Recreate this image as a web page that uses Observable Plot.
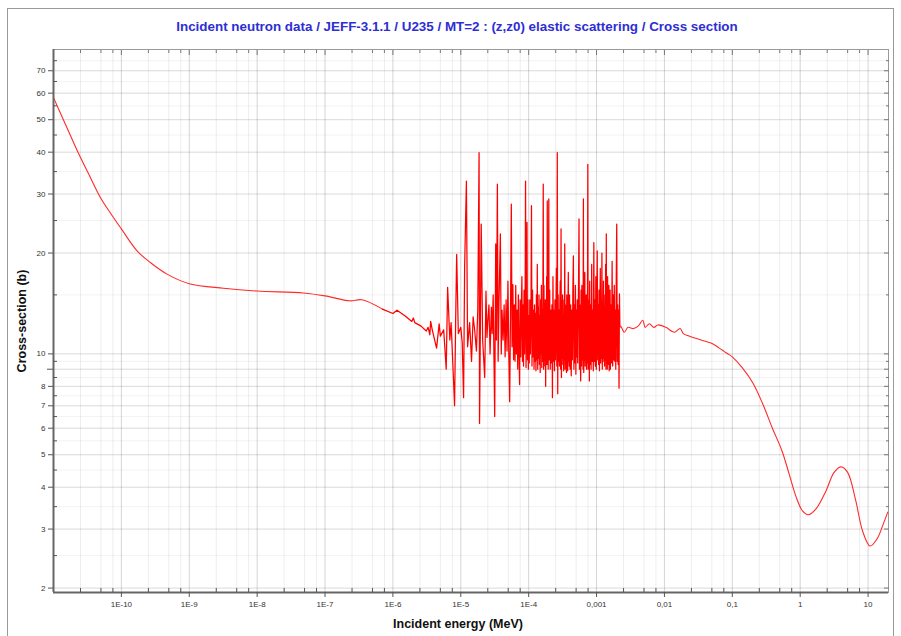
<!DOCTYPE html>
<html><head><meta charset="utf-8">
<script src="https://cdn.jsdelivr.net/npm/d3@7"></script>
<script src="https://cdn.jsdelivr.net/npm/@observablehq/plot@0.6"></script>
<style>
body{margin:0;background:#fff;font-family:"Liberation Sans",Arial,sans-serif;}
#wrap{position:relative;width:901px;height:636px;overflow:hidden;background:#fff;}
#border{position:absolute;left:7px;top:8px;width:887px;height:660px;border:1px solid #9a9a9a;box-sizing:border-box;}
#chart{position:absolute;left:0;top:0;}
#title{position:absolute;left:0;width:914px;top:19px;text-align:center;color:#2e2ed4;font-weight:bold;font-size:13.4px;white-space:nowrap;}
#xlab{position:absolute;left:0;width:916px;top:617px;text-align:center;color:#111;font-weight:bold;font-size:12.5px;white-space:nowrap;}
#ylab{position:absolute;left:22px;top:321px;transform:translate(-50%,-50%) rotate(-90deg);color:#111;font-weight:bold;font-size:12.5px;white-space:nowrap;}
</style></head>
<body>
<div id="wrap">
  <div id="border"></div>
  <div id="chart"></div>
  <div id="title">Incident neutron data / JEFF-3.1.1 / U235 / MT=2 : (z,z0) elastic scattering / Cross section</div>
  <div id="xlab">Incident energy (MeV)</div>
  <div id="ylab">Cross-section (b)</div>
</div>
<script>
// ---- data (energies in MeV unless noted, cross sections in barns) ----
const lowEnergy = [1e-11, 1.58e-11, 2.24e-11, 3.3e-11, 4.9e-11, 7e-11, 1e-10, 1.7e-10, 2.7e-10, 4.7e-10, 1e-9, 3.2e-9, 1e-8, 4.8e-8, 1e-7, 2.3e-7, 3.5e-7, 7e-7];
const lowXS     = [58.2, 47.3, 40.4, 34.4, 29.3, 26.2, 23.6, 20.3, 18.7, 17.3, 16.2, 15.7, 15.4, 15.2, 14.9, 14.4, 14.5, 13.6];

// resolved resonance region, energies in eV
const resEnergyEV = [
  // 0.7 - 40 eV
  0.7, 1.0, 1.15, 1.5, 1.9, 2.0, 2.1, 2.6, 3.1, 3.3, 3.5, 3.6, 3.8, 4.4, 4.8, 5.0, 5.6, 6.1, 6.4, 6.9, 7.2,
  8.1, 8.4, 8.7, 9.2, 10.0, 10.5, 11.0, 11.4, 12.1, 12.6, 13.5, 14.4, 15.2, 16.0, 17.0, 17.8, 18.6, 18.9, 19.5, 20.0,
  21.0, 22.5, 23.5, 24.3, 25.0, 26.0, 27.0, 28.2, 29.0, 30.0, 31.6, 32.7, 33.5, 34.6, 35.5, 36.5, 38.3, 39.5,
  // 40 - 100 eV
  40.5, 42, 43.5, 45, 46.5, 48, 49.5, 51, 52.5, 54, 55.5, 57, 58.5, 60, 61.5, 63, 64.5, 66, 67.5, 69,
  70.5, 72, 73.5, 75, 76.5, 78, 79.5, 81, 82.5, 84, 85.5, 87, 88.5, 90, 91.5, 93, 94.5, 96, 97.5, 99,
  // 100 - 200 eV
  100, 102, 104, 106, 108, 110, 112, 114, 116, 118, 120, 122, 124, 126, 128, 130, 132, 134, 136, 138,
  140, 142, 144, 146, 148, 150, 152, 154, 156, 158, 160, 162, 164, 166, 168, 170, 172, 174, 176, 178,
  180, 182, 184, 186, 188, 190, 192, 194, 196, 198,
  // 200 - 400 eV
  200, 204, 208, 212, 216, 220, 224, 228, 232, 236, 240, 244, 248, 252, 256, 260, 264, 268, 272, 276,
  280, 284, 288, 292, 296, 300, 304, 308, 312, 316, 320, 324, 328, 332, 336, 340, 344, 348, 352, 356,
  360, 364, 368, 372, 376, 380, 384, 388, 392, 396,
  // 400 - 800 eV
  400, 408, 416, 424, 432, 440, 448, 456, 464, 472, 480, 488, 496, 504, 512, 520, 528, 536, 544, 552,
  560, 568, 576, 584, 592, 600, 608, 616, 624, 632, 640, 648, 656, 664, 672, 680, 688, 696, 704, 712,
  720, 728, 736, 744, 752, 760, 768, 776, 784, 792,
  // 800 - 1600 eV
  800, 816, 832, 848, 864, 880, 896, 912, 928, 944, 960, 976, 992, 1008, 1024, 1040, 1056, 1072, 1088, 1104,
  1120, 1136, 1152, 1168, 1184, 1200, 1216, 1232, 1248, 1264, 1280, 1296, 1312, 1328, 1344, 1360, 1376, 1392, 1408, 1424,
  1440, 1456, 1472, 1488, 1504, 1520, 1536, 1552, 1568, 1584,
  // 1600 - 2208 eV
  1600, 1632, 1664, 1696, 1728, 1760, 1792, 1824, 1856, 1888, 1920, 1952, 1984, 2016, 2048, 2080, 2112, 2144, 2176, 2208
];
const resXS = [
  13.6, 13.2, 13.5, 13.0, 12.5, 12.8, 12.4, 12.1, 11.7, 12.0, 11.4, 12.5, 11.8, 10.4, 12.3, 11.3, 11.8, 9.0, 15.8, 11.0, 12.4,
  7.0, 12.5, 19.8, 11.5, 12.0, 10.8, 7.4, 18.3, 32.8, 10.5, 12.4, 9.5, 12.9, 11.8, 10.2, 13.5, 39.9, 6.2, 13.0, 24.4,
  11.0, 8.5, 15.4, 11.2, 12.5, 14.0, 10.0, 13.8, 11.5, 15.0, 6.5, 21.3, 11.0, 32.1, 9.5, 14.0, 22.8, 10.0,
  13.5, 11.0, 14.0, 9.8, 14.5, 10.2, 16.5, 10.0, 7.2, 13.0, 28.0, 10.5, 16.1, 9.6, 14.0, 9.5, 16.0, 10.0, 13.5, 9.0,
  15.0, 10.2, 8.1, 14.5, 9.8, 13.5, 17.0, 9.5, 14.0, 9.2, 15.5, 10.0, 13.0, 32.8, 9.1, 14.0, 24.7, 9.6, 14.5, 9.0,
  13.0, 9.4, 14.5, 10.0, 13.0, 27.7, 9.2, 15.5, 9.8, 13.5, 9.0, 14.0, 9.5, 13.2, 8.9, 15.0, 9.6, 18.5, 9.0, 13.8,
  9.7, 15.0, 9.3, 13.0, 8.8, 14.5, 10.0, 16.0, 9.1, 13.5, 9.5, 14.5, 32.1, 9.0, 16.0, 9.6, 13.0, 9.2, 14.5, 8.0,
  13.5, 9.8, 17.0, 9.3, 28.6, 9.5, 14.0, 9.0, 15.0, 29.0,
  9.6, 15.5, 9.0, 13.5, 9.4, 14.0, 7.4, 17.0, 9.5, 13.5, 8.9, 14.5, 9.6, 13.0, 18.0, 9.2, 39.9, 7.6, 15.0, 9.5,
  13.5, 9.2, 14.0, 16.5, 9.0, 23.6, 8.5, 14.5, 9.7, 15.0, 9.3, 13.0, 8.9, 14.5, 9.6, 21.3, 9.0, 14.0, 9.5, 13.5,
  8.8, 15.0, 9.4, 13.5, 8.9, 14.5, 17.5, 9.5, 13.0, 9.2,
  15.0, 9.0, 14.0, 8.6, 13.5, 9.6, 15.5, 19.6, 9.0, 14.0, 9.4, 16.0, 8.7, 13.5, 9.8, 14.5, 9.4, 13.0, 17.0, 25.3,
  9.0, 14.0, 9.5, 8.3, 15.5, 9.2, 16.0, 9.6, 13.5, 9.0, 29.0, 8.8, 14.5, 9.5, 17.5, 9.2, 13.5, 9.7, 15.0, 9.0,
  14.0, 9.4, 16.0, 36.8, 9.0, 14.5, 9.6, 13.5, 8.3, 16.5,
  9.3, 14.0, 9.0, 18.5, 9.5, 13.5, 8.9, 21.5, 9.5, 14.5, 9.2, 17.0, 9.0, 13.5, 20.3, 9.6, 14.0, 9.3, 15.5, 8.9,
  13.5, 18.0, 9.4, 14.5, 9.7, 20.0, 9.0, 14.0, 9.5, 16.5, 9.7, 13.5, 9.2, 15.0, 9.6, 18.5, 9.0, 22.8, 9.4, 14.0,
  9.0, 17.0, 9.5, 13.5, 9.3, 16.0, 8.9, 14.5, 9.6, 15.5,
  9.0, 14.0, 9.4, 18.9, 9.2, 15.0, 9.6, 16.0, 9.5, 13.5, 9.0, 17.0, 24.4, 9.5, 14.0, 9.3, 13.5, 7.9, 15.1, 12.0
];

const highEnergy = [2.208e-3, 2.27e-3, 2.57e-3, 2.9e-3, 3.5e-3, 4.1e-3, 4.8e-3, 5.2e-3, 6.0e-3, 7.0e-3, 8.0e-3, 1.05e-2, 1.4e-2, 1.7e-2, 1.9e-2, 2.3e-2, 3.2e-2, 4.0e-2, 5.2e-2, 6.0e-2, 7.2e-2, 8.0e-2, 9.0e-2, 0.1, 0.14, 0.2, 0.28, 0.39, 0.54, 0.69, 0.86, 1.08, 1.32, 1.7, 2.4, 3.16, 4.0, 5.0, 6.6, 8.3, 10.7, 13.5, 17.0, 19.5];
const highXS     = [12.0, 12.1, 11.6, 12.0, 11.9, 12.1, 12.6, 12.0, 12.3, 12.0, 12.2, 12.0, 11.6, 11.9, 11.5, 11.3, 11.06, 10.9, 10.7, 10.5, 10.25, 10.1, 9.95, 9.8, 9.1, 8.2, 7.1, 6.0, 5.13, 4.37, 3.77, 3.40, 3.31, 3.44, 3.90, 4.43, 4.60, 4.43, 3.64, 2.96, 2.67, 2.80, 3.13, 3.37];

// ticks
const xDomain = [1e-11, 20];
const yDomain = [1.94, 81];
const xTickValues = [1e-10, 1e-9, 1e-8, 1e-7, 1e-6, 1e-5, 1e-4, 1e-3, 1e-2, 1e-1, 1, 10];
const xTickLabels = ["1E-10", "1E-9", "1E-8", "1E-7", "1E-6", "1E-5", "1E-4", "0,001", "0,01", "0,1", "1", "10"];
const xMinorMultipliers = [2.5, 5, 7.5];
const yTickValues = [2, 3, 4, 5, 6, 7, 8, 10, 20, 30, 40, 50, 60, 70];
const yUnlabeled = [9];
const yMinorValues = [2.5, 3.5, 4.5, 5.5, 6.5, 7.5, 8.5, 9.5, 15, 25, 35, 45, 55, 65, 75];

// ---- build tables ----
const lowData = lowEnergy.map((e, i) => ({E: e, S: lowXS[i]}));
const resData = resEnergyEV.map((e, i) => ({E: e * 1e-6, S: resXS[i]}));
const highData = highEnergy.map((e, i) => ({E: e, S: highXS[i]}));
const decades = [1e-11, 1e-10, 1e-9, 1e-8, 1e-7, 1e-6, 1e-5, 1e-4, 1e-3, 1e-2, 1e-1, 1, 10];
const xMinor = decades.flatMap(d => xMinorMultipliers.map(m => d * m)).filter(v => v < xDomain[1]);
const fmtX = d => xTickLabels[xTickValues.indexOf(d)];
const tickFont = {fontSize: 8, fill: "#333"};

const chart = Plot.plot({
  width: 901, height: 636,
  marginLeft: 53, marginRight: 13, marginTop: 49, marginBottom: 44,
  style: {fontFamily: "'Liberation Sans', Arial, sans-serif", background: "transparent"},
  x: {type: "log", domain: xDomain, label: null},
  y: {type: "log", domain: yDomain, label: null},
  marks: [
    Plot.gridX(xMinor, {stroke: "#000", strokeOpacity: 0.07}),
    Plot.gridX(xTickValues, {stroke: "#000", strokeOpacity: 0.17}),
    Plot.gridY(yMinorValues, {stroke: "#000", strokeOpacity: 0.05}),
    Plot.gridY([...yTickValues, ...yUnlabeled], {stroke: "#000", strokeOpacity: 0.15}),
    Plot.frame({stroke: "#9a9a9a"}),
    Plot.line(lowData, {x: "E", y: "S", stroke: "#ff2a2a", strokeWidth: 1.1, curve: "catmull-rom"}),
    Plot.line(resData, {x: "E", y: "S", stroke: "#ff0000", strokeWidth: 1.25}),
    Plot.line(highData, {x: "E", y: "S", stroke: "#ff2a2a", strokeWidth: 1.1, curve: "catmull-rom"}),
    Plot.ruleX([xDomain[0]], {stroke: "#666", strokeWidth: 2}),
    Plot.ruleY([yDomain[0]], {stroke: "#666", strokeWidth: 2}),
    Plot.axisX(xTickValues, {anchor: "bottom", tickSize: 5, tickPadding: 4, tickFormat: fmtX, label: null, stroke: "#555", ...tickFont}),
    Plot.axisX(xMinor, {anchor: "bottom", tickSize: -4, tickFormat: () => "", label: null, stroke: "#555"}),
    Plot.axisX(xTickValues, {anchor: "top", tickSize: -5, tickFormat: () => "", label: null, stroke: "#777"}),
    Plot.axisX(xMinor, {anchor: "top", tickSize: -3, tickFormat: () => "", label: null, stroke: "#777"}),
    Plot.axisY(yTickValues, {anchor: "left", tickSize: 5, tickPadding: 3, label: null, stroke: "#555", ...tickFont}),
    Plot.axisY(yUnlabeled, {anchor: "left", tickSize: 6, tickFormat: () => "", label: null, stroke: "#555"}),
    Plot.axisY(yMinorValues, {anchor: "left", tickSize: -4, tickFormat: () => "", label: null, stroke: "#555"}),
    Plot.axisY([...yTickValues, ...yUnlabeled], {anchor: "right", tickSize: -5, tickFormat: () => "", label: null, stroke: "#777"}),
    Plot.axisY(yMinorValues, {anchor: "right", tickSize: -3, tickFormat: () => "", label: null, stroke: "#777"})
  ]
});
document.getElementById("chart").appendChild(chart);
</script>
</body></html>
